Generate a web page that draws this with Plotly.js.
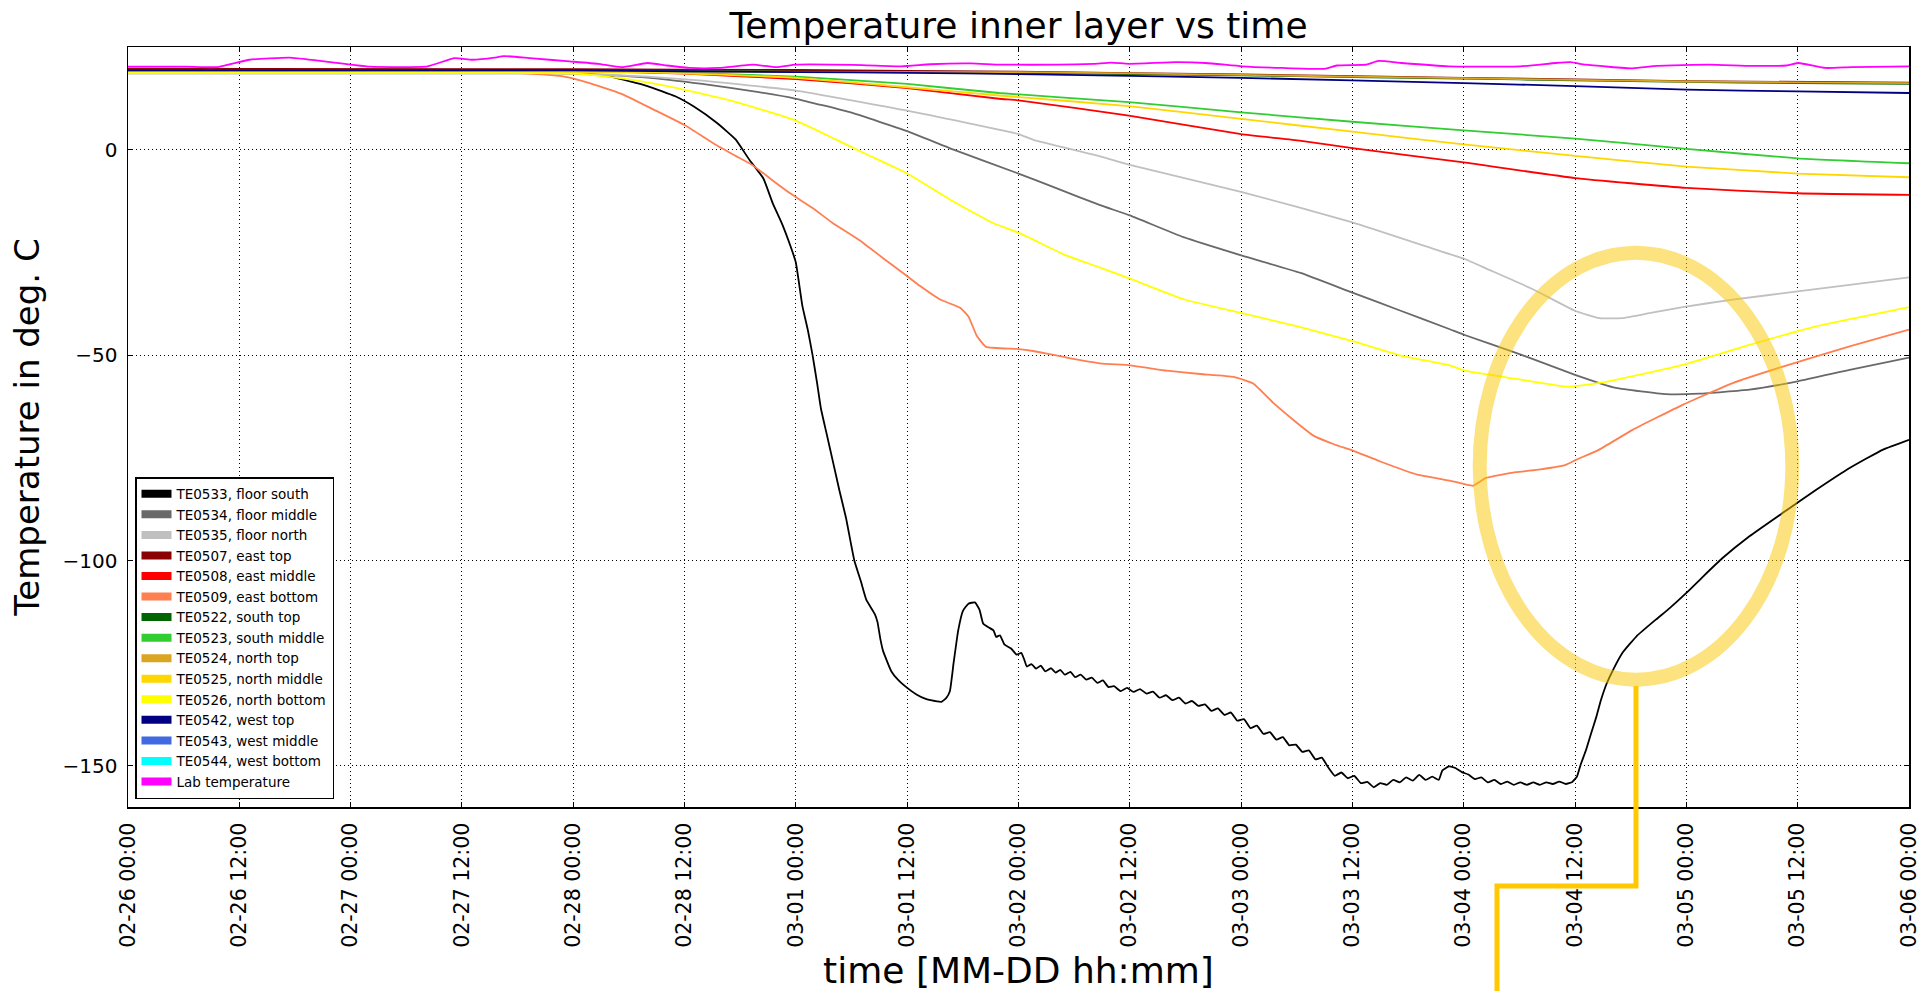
<!DOCTYPE html>
<html><head><meta charset="utf-8">
<script src="https://cdn.plot.ly/plotly-3.0.1.min.js"></script>
<style>html,body{margin:0;padding:0;background:#fff;} #chart{width:1929px;height:991px;}</style>
</head><body><div id="chart"></div>
<script>
// ---- data (time in hours since 02-26 00:00, temperature in deg. C) ----
const startDate = '2017-02-26 00:00';
const endDate = '2017-03-06 00:00';
const yTickVals = [0, -50, -100, -150];

const names = ['TE0533, floor south','TE0534, floor middle','TE0535, floor north','TE0507, east top',
  'TE0508, east middle','TE0509, east bottom','TE0522, south top','TE0523, south middle','TE0524, north top',
  'TE0525, north middle','TE0526, north bottom','TE0542, west top','TE0543, west middle','TE0544, west bottom','Lab temperature'];
const colors = ['#000000','#696969','#c0c0c0','#8b0000','#ff0000','#ff7f50','#006400','#32cd32','#daa520',
  '#ffd700','#ffff00','#000080','#4169e1','#00ffff','#ff00ff'];

const te0533_h = [0,12,24,36,44,48,52,56,59,61,63.5,65.5,67,68.5,69.5,70.5,71.5,72,72.7,73.3,73.8,74.3,74.7,75.3,76,76.7,77.4,78.3,79,79.6,80.5,80.8,81.1,81.4,82.3,83,84,85,86,87,87.7,88.2,88.6,89,89.5,90,90.6,91.3,91.8,92.2,92.8,93.3,93.6,94,94.5,95.2,95.8,96.3,96.6,96.9,97.4,97.9,98.4,98.9,99.5,100,100.5,101,101.6,102.1,102.7,103.3,103.9,104.5,105.1,105.7,106.3,
  107.0,107.7,108.4,109.1,109.8,110.5,111.2,111.9,112.6,113.3,114.0,114.7,115.4,116.1,116.8,117.5,118.2,118.9,119.6,120.3,121.0,121.7,122.4,123.1,123.8,124.5,125.2,125.9,126.6,127.3,128.0,128.7,129.4,130.1,130.8,131.5,132.2,132.9,133.6,134.3,135.0,135.7,136.4,137.1,137.8,138.5,139.2,139.9,140.6,141.3,141.7,142.4,143.1,143.8,144.5,145.2,145.9,146.6,147.3,148.0,148.7,149.4,150.1,150.8,151.5,152.2,152.9,153.6,154.3,155.0,155.7,156.2,156.6,157.2,157.7,158.3,158.8,159.4,160.1,161.1,162.6,164.7,166.2,168,169.8,171.9,174.8,178.4,182,185.6,189.2,192];
const te0533_t = [19.3,19.3,19.3,19.2,19.1,18.8,17.8,15.5,13,10.5,6.5,2.5,-2.5,-7,-13,-18,-24,-27.5,-38,-44,-50,-57,-63,-69,-76,-83,-89.6,-100,-105,-109.6,-113,-115,-119,-122,-127,-129,-131,-132.6,-133.7,-134.2,-134.4,-133.5,-131.8,-125,-117,-112.3,-110.5,-110.2,-112,-115.4,-116.3,-117,-118.6,-118.2,-120.5,-121.4,-122.9,-122.5,-124,-125.8,-125.2,-126.3,-125.6,-127,-126.2,-127.3,-126.6,-127.8,-127.1,-128.4,-127.8,-129,-128.5,-129.8,-129.2,-130.8,-130.6,
  -131.8,-131.0,-132.0,-131.3,-132.4,-131.9,-133.4,-132.8,-134.0,-133.4,-134.8,-134.2,-135.4,-135.0,-136.6,-136.0,-137.6,-137.0,-139.0,-138.6,-140.8,-140.2,-142.2,-141.8,-143.6,-143.0,-145.0,-144.8,-146.6,-146.2,-148.4,-148.0,-150.4,-152.4,-151.6,-153.0,-152.4,-154.2,-153.9,-155.2,-154.2,-154.6,-153.4,-154.0,-152.8,-153.6,-152.2,-153.4,-152.6,-153.4,-151.1,-150.1,-150.5,-151.5,-152.1,-153.2,-152.8,-154.0,-153.4,-154.4,-153.8,-154.6,-154.0,-154.6,-154.0,-154.6,-154.0,-154.4,-153.8,-154.4,-153.9,-152.6,-149.7,-146,-142.3,-138,-133.9,-130,-126.6,-122.5,-118.5,-114.4,-111.6,-107.9,-103.9,-99.4,-94.1,-88.4,-82.8,-77.5,-73,-70.6];

const te0534_h = [0,44,49.5,55.7,61.9,68,72,78,84,89,96,100,104.8,108,113.8,120.1,126.4,132,137.2,142.5,144.1,149.7,156,160.4,165.8,169.4,174.8,180,185.6,192];
const te0534_t = [18.7,18.7,18.4,17.6,16,14,12.4,9,4.5,0,-5.8,-9.3,-13.5,-16,-21.3,-25.8,-30,-34.8,-39.2,-43.7,-45.1,-49.5,-54.8,-58,-59.5,-59.4,-58.4,-56.4,-53.6,-50.6];

const te0535_h = [0,46,50.7,56,61.9,72,84,96,97.6,104.8,108,120.1,132,140.8,144.1,146.5,151.4,156,158.6,161.1,164,167.6,173,180,185.6,192];
const te0535_t = [18.5,18.5,18.3,17.8,16.8,14.4,9.5,3.8,2.4,-1.6,-3.7,-10.3,-17.7,-24.2,-26.6,-29,-33.9,-39.2,-41,-41,-39.8,-38.3,-36.5,-34.5,-32.9,-31.1];

const te0507_h = [0,48,72,96,120,144,168,192];
const te0507_t = [19.7,19.6,19.4,19.0,18.3,17.5,16.7,16.3];

const te0508_h = [0,52,60,72,84,93.9,96,107.9,120,126.3,132,144,156,168,180,192];
const te0508_t = [19.0,19.0,18.5,17.2,15,12.4,12,8.3,3.8,2.2,0.4,-3.1,-6.9,-9.3,-10.6,-11];

const te0509_h = [0,24,40,43.3,47,49.5,53.2,56.9,60,63.5,65.5,67.3,69.5,71.3,73.8,76,78.9,81.4,83.9,85.4,87.5,89.7,90.6,91.5,92.5,95.8,97.6,101.2,104.8,108,112,115.6,119.2,121.3,123.5,125.7,127.8,130,132.1,135,139,142.6,145,146.4,149.6,151.6,155,156.1,158.6,162.2,167.6,173,178.4,185.6,192];
const te0509_t = [18.9,18.9,18.8,18.5,17.8,16.4,13.6,9.5,6,1,-1.5,-3.7,-7.5,-10.5,-14.2,-17.9,-22.1,-26.4,-30.6,-33.2,-36.4,-38.5,-40.6,-45.3,-48,-48.5,-49,-50.6,-52,-52.5,-53.8,-54.6,-55.3,-56.9,-61.7,-65.9,-69.6,-71.7,-73.3,-75.9,-79.1,-80.6,-81.8,-79.9,-78.5,-78,-76.7,-75.5,-73,-68.2,-62.1,-56.8,-52.8,-47.9,-43.8];

const te0522_h = [0,60,84,96,120,132,144,156,168,180,192];
const te0522_t = [19.2,19.1,18.9,18.7,18.1,17.7,17.3,16.9,16.5,16.2,16.0];

const te0523_h = [0,56,62,72,84,93.9,107.9,120,132,144,156,168,180,192];
const te0523_t = [18.9,18.9,18.6,17.8,16,13.8,11.6,9.1,6.8,4.7,2.7,0.2,-2.1,-3.3];

const te0524_h = [0,60,84,96,120,132,144,156,168,180,192];
const te0524_t = [19.0,19.0,18.9,18.9,18.2,17.8,17.4,17.0,16.6,16.4,16.2];

const te0525_h = [0,56,62,72,84,93.9,107.9,120,132,144,156,168,180,192];
const te0525_t = [18.8,18.8,18.4,17.5,15.2,13.2,10.6,7.5,4.4,1.3,-1.5,-4.1,-5.8,-6.7];

const te0526_h = [0,40,48.3,53.8,58.8,64.9,72,76.3,79.6,84,88.6,93.3,96,101.2,104.8,108,113.8,120.1,126.4,132,137.2,142.5,144.1,149.7,155.2,158.8,160.4,167.6,174.8,182,192];
const te0526_t = [18.7,18.7,18.5,17.2,15.2,12,7.1,2.5,-1.1,-5.8,-12.1,-17.9,-20.2,-25.8,-28.7,-31.4,-36.4,-39.8,-43.2,-46.6,-50.1,-52.5,-53.8,-55.8,-57.7,-56.7,-56,-52.4,-47.5,-43,-38.3];

const te0542_h = [0,48,60,72,84,96,120,144,156,168,180,192];
const te0542_t = [19.3,19.3,19.1,18.9,18.7,18.4,17.5,16.2,15.5,14.6,14.2,13.8];

const te0543_h = [];
const te0543_t = [];
const te0544_h = [];
const te0544_t = [];

const lab_h = [0,6.3,9.7,13.1,17.4,19.3,26.1,32.3,35.2,37.1,39.5,40.5,43.3,47.6,50.7,53.2,56,58.1,60.6,63.7,67.4,69.9,72,79.1,83.4,86.5,90.9,94,100.3,104.1,106,107.9,113,116.2,120.1,124.5,129,130.3,133.5,134.8,137.3,142.4,150.1,153.9,155.5,157.1,162.2,164.8,170.5,175,178.8,180.1,183,185.8,192];
const lab_t = [20.2,20.2,20.1,21.9,22.4,22.0,20.2,20.3,22.3,21.9,22.4,22.8,22.3,21.5,20.9,20.1,21.1,20.5,19.9,19.9,20.7,20.1,20.7,20.6,20.3,20.8,21.0,20.7,20.7,20.9,21.2,20.9,21.3,21.1,20.3,19.9,19.7,20.5,20.7,21.6,21.1,20.3,20.3,21.1,21.3,20.7,19.8,20.4,20.7,20.4,20.5,21.1,19.9,20.1,20.3];

const seriesH = [te0533_h,te0534_h,te0535_h,te0507_h,te0508_h,te0509_h,te0522_h,te0523_h,te0524_h,te0525_h,te0526_h,te0542_h,te0543_h,te0544_h,lab_h];
const seriesT = [te0533_t,te0534_t,te0535_t,te0507_t,te0508_t,te0509_t,te0522_t,te0523_t,te0524_t,te0525_t,te0526_t,te0542_t,te0543_t,te0544_t,lab_t];

// ---- build traces ----
const baseMs = Date.UTC(2017, 1, 26, 0, 0, 0);
const toMs = h => baseMs + h * 3600000;

const traces = [];
names.forEach((n, i) => {
  traces.push({
    type: 'scatter', mode: 'lines', name: n, legendgroup: n, showlegend: false,
    x: seriesH[i].map(toMs), y: seriesT[i],
    line: {color: colors[i], width: 1.8, shape: 'spline', smoothing: 0.4}, hoverinfo: 'skip'
  });
});
names.forEach((n, i) => {
  traces.push({
    type: 'scatter', mode: 'lines', name: n, legendgroup: n, showlegend: true,
    x: [null], y: [null], line: {color: colors[i], width: 8}, hoverinfo: 'skip'
  });
});

const L = 128, R = 20, T = 47, B = 184, W = 1929, H = 991;
const px = x => (x - L) / (W - L - R);
const py = y => (H - B - y) / (H - T - B);

const layout = {
  width: W, height: H,
  margin: {l: L, r: R, t: T, b: B, pad: 0},
  paper_bgcolor: '#ffffff', plot_bgcolor: '#ffffff',
  font: {family: 'DejaVu Sans', color: '#000000'},
  showlegend: true,
  title: {text: 'Temperature inner layer vs time', font: {size: 36, family: 'DejaVu Sans', color: '#000'},
          x: 0.5, xanchor: 'center', xref: 'paper', y: 1 - 25 / H, yref: 'container', yanchor: 'middle'},
  xaxis: {
    type: 'date', range: [startDate, endDate], tick0: startDate, dtick: 43200000,
    tickformat: '%m-%d %H:%M', tickangle: -90, tickfont: {size: 20.5},
    ticks: 'inside', ticklen: 5, tickwidth: 1, tickcolor: '#000',
    showline: true, linecolor: '#000', linewidth: 1.5, mirror: 'ticks',
    showgrid: true, gridcolor: '#000', gridwidth: 1, griddash: '1px,3px',
    zeroline: false, automargin: false, ticklabelstandoff: 6,
    title: {text: 'time [MM-DD hh:mm]', font: {size: 36}, standoff: 14}
  },
  yaxis: {
    range: [-160, 25], tickvals: yTickVals, tickfont: {size: 20},
    ticks: 'inside', ticklen: 5, tickwidth: 1, tickcolor: '#000',
    showline: true, linecolor: '#000', linewidth: 1.5, mirror: 'ticks',
    showgrid: true, gridcolor: '#000', gridwidth: 1, griddash: '1px,3px',
    zeroline: false, automargin: false, ticklabelstandoff: 5,
    title: {text: 'Temperature in deg. C', font: {size: 34}, standoff: 12}
  },
  legend: {
    x: px(135), y: py(799), xanchor: 'left', yanchor: 'bottom',
    bgcolor: '#ffffff', bordercolor: '#000000', borderwidth: 1.5,
    font: {size: 13.5, family: 'DejaVu Sans'}, itemwidth: 30, tracegroupgap: 0
  },
  shapes: [
    {type: 'circle', xref: 'paper', yref: 'paper', x0: px(1479.7), x1: px(1792.3), y0: py(679.7), y1: py(252.7),
     line: {color: 'rgba(250,200,0,0.5)', width: 14}, fillcolor: 'rgba(0,0,0,0)', layer: 'above'},
    {type: 'path', xref: 'paper', yref: 'paper',
     path: 'M ' + px(1636) + ',' + py(686) + ' L ' + px(1636) + ',' + py(886) + ' L ' + px(1497) + ',' + py(886) + ' L ' + px(1497) + ',' + py(1000),
     line: {color: '#ffc800', width: 5}, layer: 'above'}
  ]
};

Plotly.newPlot('chart', traces, layout, {staticPlot: true, displayModeBar: false});
</script>
</body></html>
